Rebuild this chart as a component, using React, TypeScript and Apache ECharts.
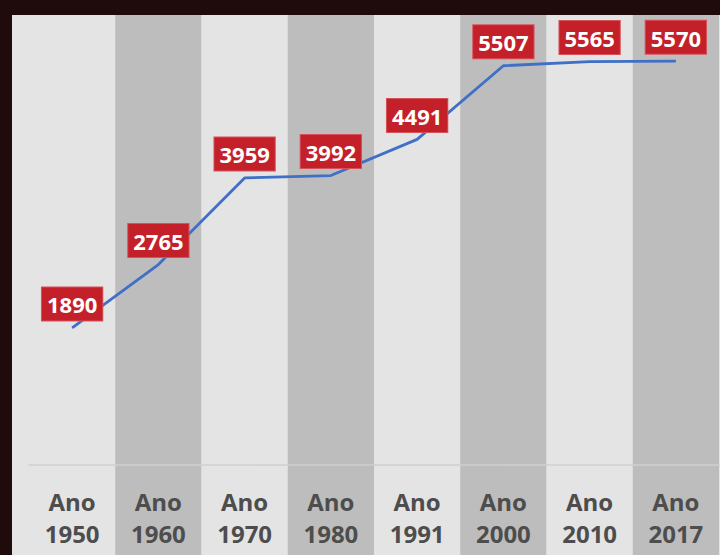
import React, { useEffect, useRef } from "react";
import * as echarts from "echarts";

const years = ["1950", "1960", "1970", "1980", "1991", "2000", "2010", "2017"];
const population = [1890, 2765, 3959, 3992, 4491, 5507, 5565, 5570];
const yMin = 0;
const yMax = 6000;

export default function App() {
  const ref = useRef<HTMLDivElement>(null);
  useEffect(() => {
    if (!ref.current) return;
    const chart = echarts.init(ref.current, undefined, { renderer: "svg" });
    chart.setOption({
      animation: false,
      backgroundColor: "#e4e4e4",
      grid: [
        { left: 17, right: 1, top: 0, bottom: 0 },
        { left: 17, right: 1, top: 15, bottom: 90 },
      ],
      xAxis: [
        {
          gridIndex: 0,
          type: "category",
          data: years,
          boundaryGap: true,
          z: 0,
          axisLine: { show: false },
          axisTick: { show: false },
          axisLabel: { show: false },
          splitLine: { show: false },
          splitArea: { show: true, areaStyle: { color: ["#e4e4e4", "#bdbdbd"] } },
        },
        {
          gridIndex: 1,
          type: "category",
          data: years,
          boundaryGap: true,
          z: 3,
          axisLine: { show: true, lineStyle: { color: "#cfcfcf", width: 1.5 } },
          axisTick: { show: false },
          axisLabel: {
            formatter: (v: string) => "Ano\n" + v,
            fontSize: 24,
            fontWeight: "bold",
            fontFamily: "Open Sans",
            color: "#4d4d4d",
            lineHeight: 32,
            margin: 20,
          },
          splitLine: { show: false },
        },
      ],
      yAxis: [
        { gridIndex: 0, type: "value", show: false },
        { gridIndex: 1, type: "value", min: yMin, max: yMax, show: false },
      ],
      series: [
        {
          type: "line",
          xAxisIndex: 1,
          yAxisIndex: 1,
          data: population,
          showSymbol: true,
          symbol: "circle",
          symbolSize: 1,
          itemStyle: { color: "rgba(0,0,0,0)" },
          z: 5,
          lineStyle: { color: "#3f6fc6", width: 2.8 },
          label: {
            show: true,
            position: "top",
            distance: 7,
            color: "#ffffff",
            fontSize: 22,
            fontWeight: "bold",
            fontFamily: "Open Sans",
            backgroundColor: "#c4202a",
            borderColor: "#d6525a",
            borderWidth: 1,
            padding: [6, 5, 5, 5],
          },
        },
      ],
    });
    return () => chart.dispose();
  }, []);
  return (
    <div
      style={{
        position: "fixed",
        left: 0,
        top: 0,
        width: 720,
        height: 555,
        background: "#1f0b0c",
      }}
    >
      <div
        ref={ref}
        style={{ position: "absolute", left: 12, top: 15, width: 708, height: 540 }}
      />
    </div>
  );
}
